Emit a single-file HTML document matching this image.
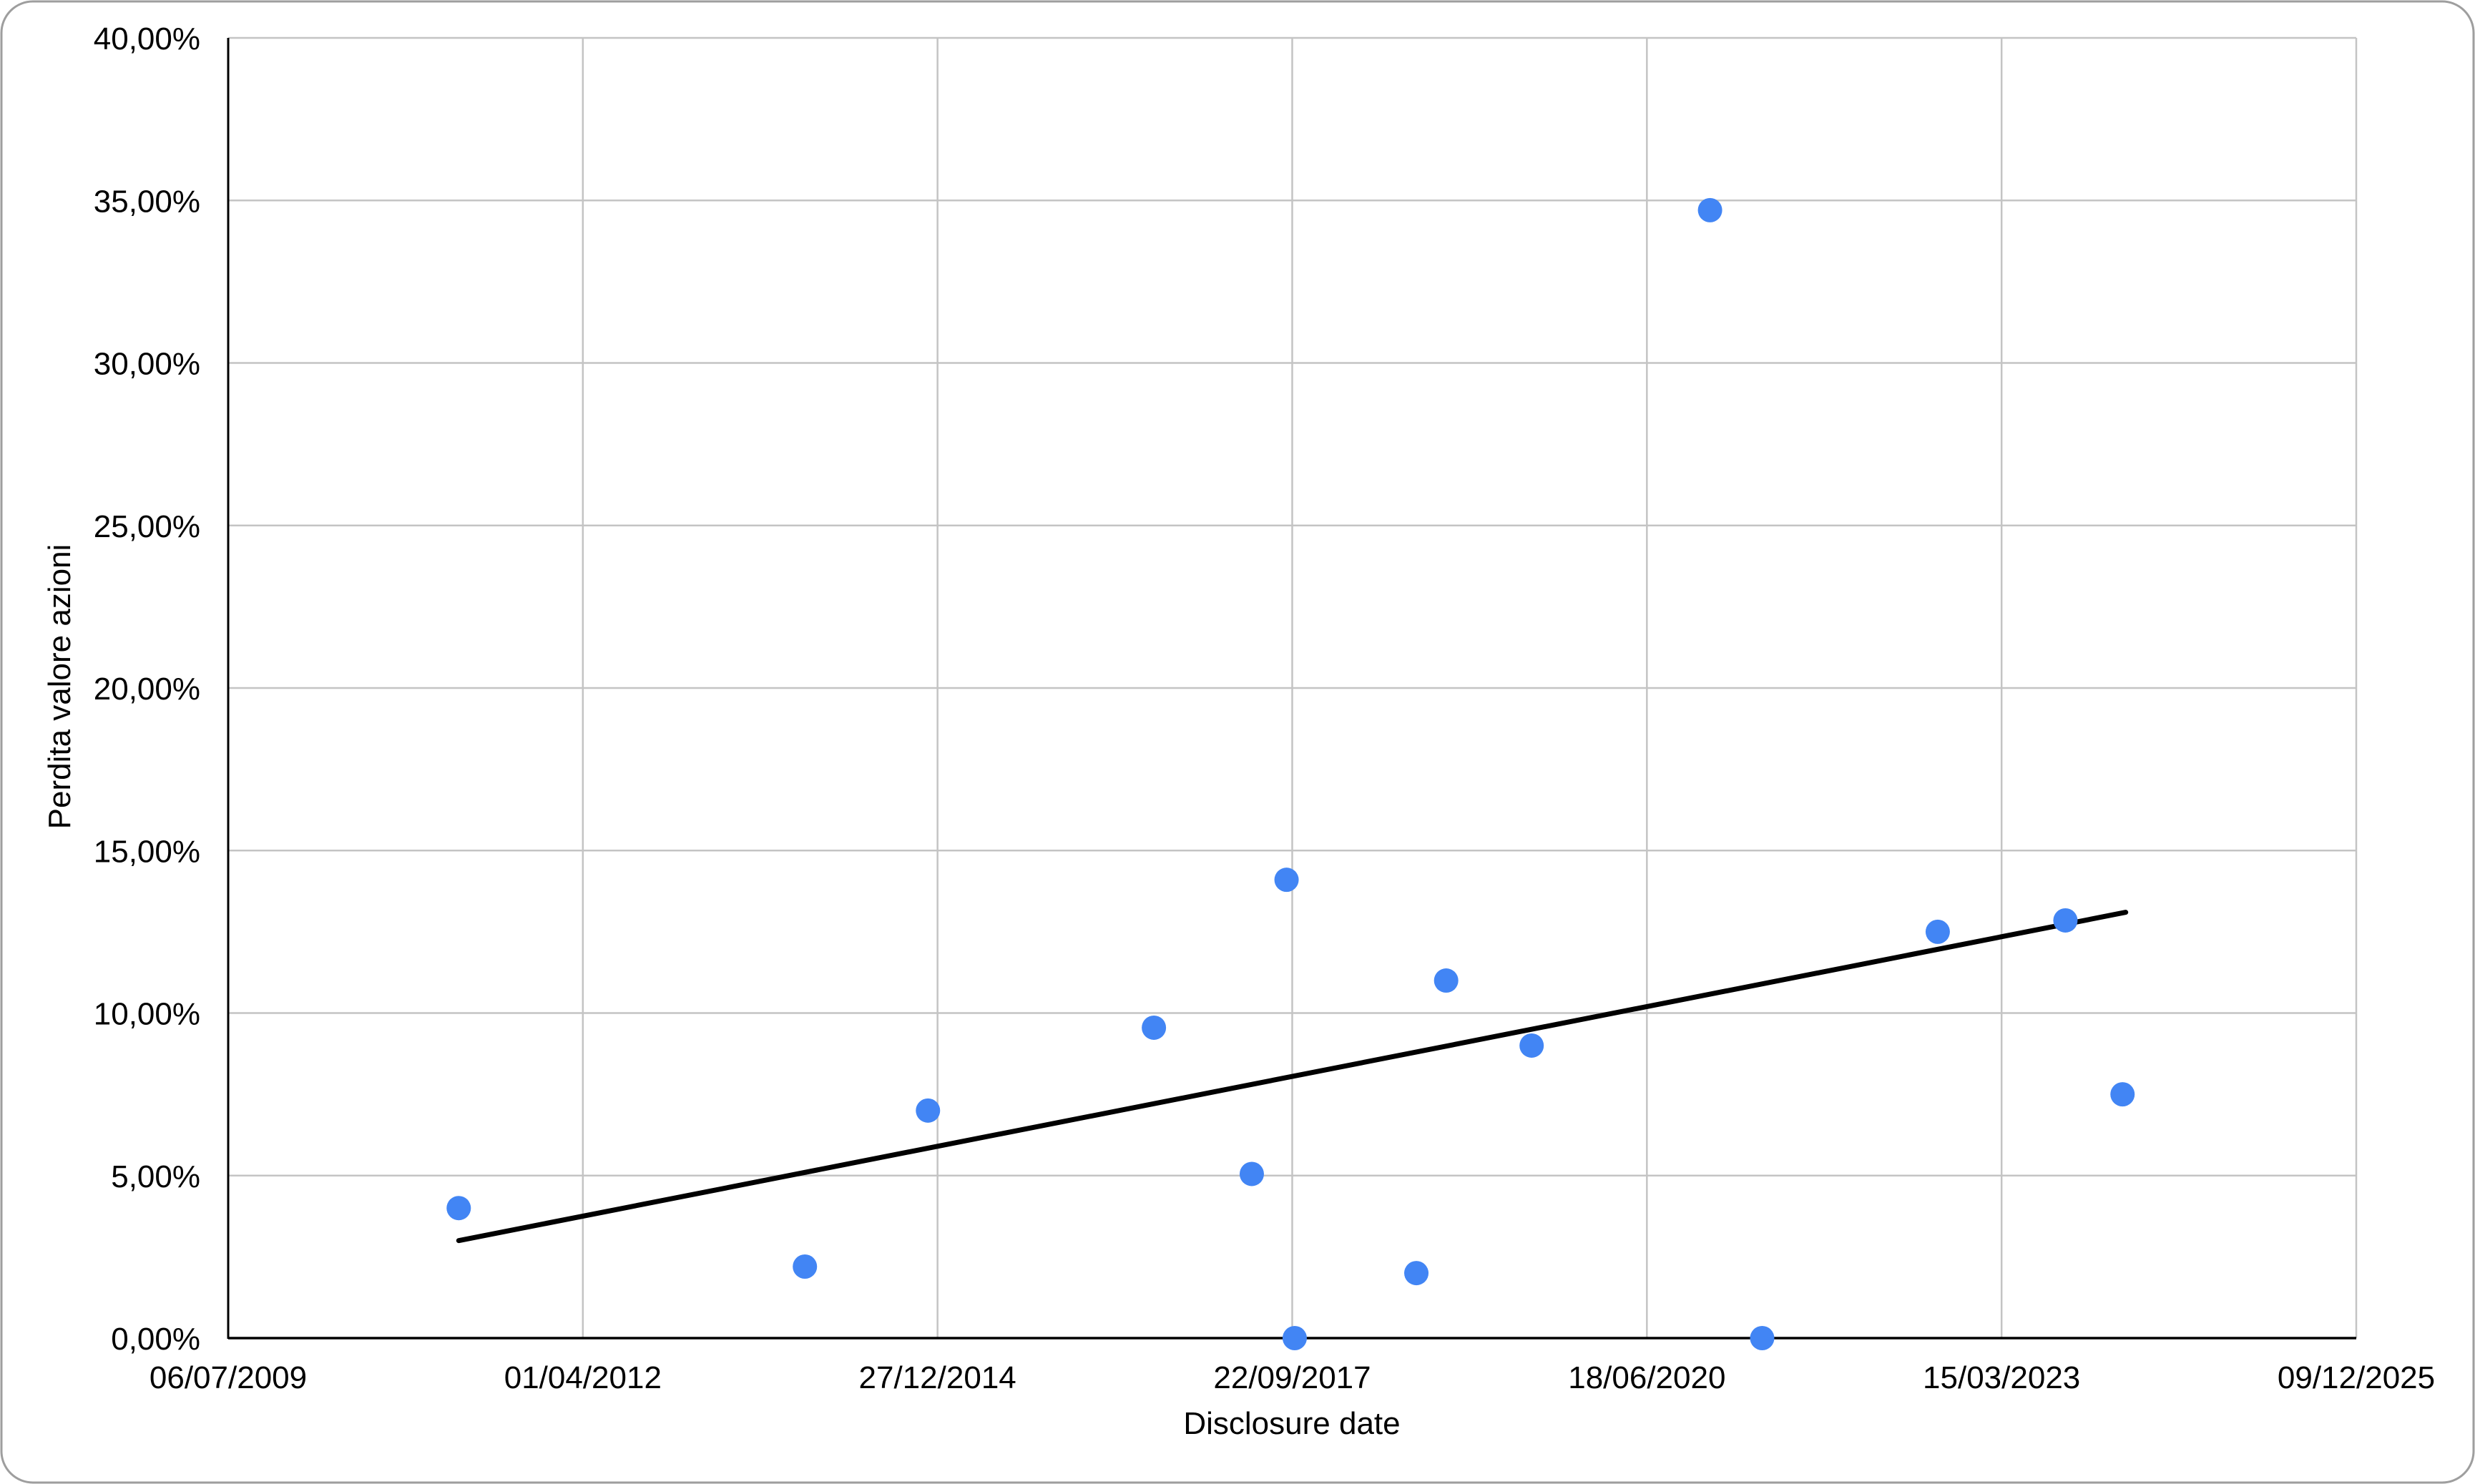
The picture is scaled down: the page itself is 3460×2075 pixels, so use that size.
<!DOCTYPE html>
<html><head><meta charset="utf-8"><style>
html,body{margin:0;padding:0;background:#fff}
svg{display:block;font-family:"Liberation Sans",Arial,sans-serif}
</style></head><body>
<svg id="chart" width="3460" height="2075" viewBox="0 0 3460 2075" xmlns="http://www.w3.org/2000/svg">
<rect x="2" y="2" width="3456" height="2071" rx="44" fill="#fff" stroke="#9e9e9e" stroke-width="3"/>
<g id="grid"></g><g id="axes"></g><g id="trend"></g><g id="points"></g><g id="labels"></g>
<text x="1806" y="2005" font-size="44" text-anchor="middle">Disclosure date</text>
<text x="0" y="0" font-size="44" text-anchor="middle" transform="translate(98,960) rotate(-90)">Perdita valore azioni</text>
</svg>
<script>
const xTickLabels=["06/07/2009","01/04/2012","27/12/2014","22/09/2017","18/06/2020","15/03/2023","09/12/2025"];
const xTickDays=[0,1000,2000,3000,4000,5000,6000];
const yTickValues=[0,5,10,15,20,25,30,35,40];
const yTickLabels=["0,00%","5,00%","10,00%","15,00%","20,00%","25,00%","30,00%","35,00%","40,00%"];
const pointDays=[650,1626,1973,2610,2886,2984,3007,3350,3434,3675,4178,4325,4820,5180,5341];
const pointLoss=[4.0,2.2,7.0,9.55,5.05,14.1,0,2.0,11.0,9.0,34.7,0,12.5,12.85,7.5];
const trendDays=[650,5350];
const trendLoss=[3.0,13.1];

const L=319,R=3294,T=53,B=1871;
const xs=d=>L+(d-0)/6000*(R-L);
const ys=v=>B-v/40*(B-T);
const NS="http://www.w3.org/2000/svg";
function mk(tag,parent,attrs){const e=document.createElementNS(NS,tag);for(const k in attrs)e.setAttribute(k,attrs[k]);document.getElementById(parent).appendChild(e);return e;}

yTickValues.forEach((v,i)=>{
  if(v>0){const g=mk('line','grid',{x1:L,x2:R,y1:ys(v),y2:ys(v),stroke:'#c4c4c4','stroke-width':2.5});
  
  }
  const t=mk('text','labels',{x:280,y:ys(v)+16,'font-size':44,'text-anchor':'end'});
  t.textContent=yTickLabels[i];
  
  
});
xTickDays.forEach((d,i)=>{
  if(i>0){const g=mk('line','grid',{x1:xs(d),x2:xs(d),y1:T,y2:B,stroke:'#c4c4c4','stroke-width':2.5});
  
  }
  const t=mk('text','labels',{x:xs(d),y:1941,'font-size':44,'text-anchor':'middle'});
  t.textContent=xTickLabels[i];
  
  
});
const ya=mk('line','axes',{x1:L,x2:L,y1:T,y2:B+1,stroke:'#000','stroke-width':3});


const xa=mk('line','axes',{x1:L,x2:R,y1:B,y2:B,stroke:'#000','stroke-width':3.5});



const tl=mk('line','trend',{x1:xs(trendDays[0]),y1:ys(trendLoss[0]),x2:xs(trendDays[1]),y2:ys(trendLoss[1]),stroke:'#000','stroke-width':7,'stroke-linecap':'round'});



pointDays.forEach((d,i)=>{
  const c=mk('circle','points',{cx:xs(d),cy:ys(pointLoss[i]),r:17,fill:'#4285f4'});
  
  
});
</script>
</body></html>
